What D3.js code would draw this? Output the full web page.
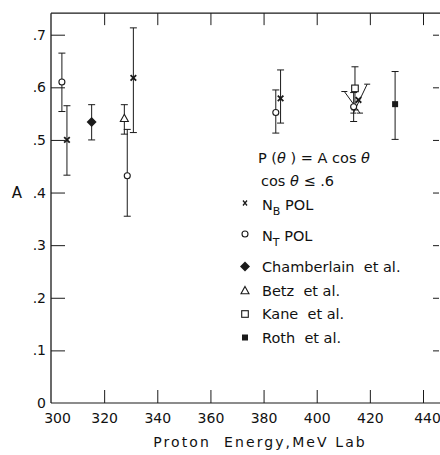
<!DOCTYPE html>
<html><head><meta charset="utf-8">
<script src="https://cdn.jsdelivr.net/npm/d3@7/dist/d3.min.js"></script>
<style>body{margin:0;background:#fff}svg{display:block}text{font-family:"DejaVu Sans",sans-serif;fill:#111;white-space:pre}</style>
</head><body><svg id="c" width="440" height="455"></svg>
<script>
const xTicks = [300,320,340,360,380,400,420,440];
const yTicks = [0,0.1,0.2,0.3,0.4,0.5,0.6,0.7];
const yTickLabels = ["0",".1",".2",".3",".4",".5",".6",".7"];
const xLabel = "Proton  Energy,MeV Lab";
const yLabel = "A";

// N_B POL
const nbE  = [306.0, 331.0, 386.4, 415.7];
const nbA  = [0.500, 0.618, 0.579, 0.576];
const nbLo = [0.433, 0.514, 0.532, null];
const nbHi = [0.565, 0.713, 0.633, null];
// N_T POL
const ntE  = [304.1, 328.7, 384.6, 413.9];
const ntA  = [0.610, 0.432, 0.552, 0.563];
const ntLo = [0.554, 0.355, 0.513, 0.535];
const ntHi = [0.665, 0.520, 0.595, 0.590];
// Chamberlain et al.
const chE = [315.3], chA = [0.534], chLo = [0.500], chHi = [0.567];
// Betz et al.
const beE = [327.6], beA = [0.541], beLo = [0.511], beHi = [0.567];
// Kane et al.
const kaE = [414.4], kaA = [0.598], kaLo = [0.557], kaHi = [0.639];
// Roth et al.
const roE = [429.5], roA = [0.568], roLo = [0.501], roHi = [0.630];
// slanted error bars near 415 MeV (start/end in data units)
const slantE1 = [410.4, 419.0];
const slantA1 = [0.592, 0.606];
const slantE2 = [416.3, 413.8];
const slantA2 = [0.551, 0.551];

const legendLabels = ["POL","POL","Chamberlain  et al.","Betz  et al.","Kane  et al.","Roth  et al."];

const svg = d3.select("#c");
const x = d3.scaleLinear().domain([300,440]).range([51,423]);
const y = d3.scaleLinear().domain([0,0.7]).range([403,34.7]);
const ink = "#1a1a1a";

// frame
const topY = y(0.741);
svg.append("line").attr("x1",x(300)).attr("x2",440).attr("y1",topY).attr("y2",topY).attr("stroke",ink).attr("stroke-width",1.2);
svg.append("line").attr("x1",x(300)).attr("x2",440).attr("y1",y(0)).attr("y2",y(0)).attr("stroke",ink).attr("stroke-width",1.2);
svg.append("line").attr("x1",x(300)).attr("x2",x(300)).attr("y1",topY).attr("y2",y(0)).attr("stroke",ink).attr("stroke-width",1.3);

// axes via d3
const gx = svg.append("g").attr("transform",`translate(0,${y(0)})`)
  .call(d3.axisBottom(x).tickValues(xTicks).tickSize(-13).tickPadding(0).tickFormat(d3.format("d")));
gx.select(".domain").remove();
gx.selectAll(".tick line").attr("stroke",ink).filter(d=>d===300).remove();
gx.selectAll(".tick text").attr("font-size",14).attr("font-family","DejaVu Sans").attr("fill","#111")
  .attr("y",10).attr("dx",d=>d===300?6:(d===440?4:0));

const gxt = svg.append("g").attr("transform",`translate(0,${topY})`)
  .call(d3.axisTop(x).tickValues(xTicks.slice(1)).tickSize(-12).tickFormat(""));
gxt.select(".domain").remove();
gxt.selectAll(".tick line").attr("stroke",ink);

const gy = svg.append("g").attr("transform",`translate(${x(300)},0)`)
  .call(d3.axisLeft(y).tickValues(yTicks).tickSize(-14).tickPadding(0).tickFormat((d,i)=>yTickLabels[i]));
gy.select(".domain").remove();
gy.selectAll(".tick line").attr("stroke",ink).filter(d=>d===0).remove();
gy.selectAll(".tick text").attr("font-size",14).attr("font-family","DejaVu Sans").attr("fill","#111").attr("x",-5);

const gyr = svg.append("g").attr("transform",`translate(439,0)`)
  .call(d3.axisRight(y).tickValues(yTicks.slice(1)).tickSize(-6).tickFormat(""));
gyr.select(".domain").remove();
gyr.selectAll(".tick line").attr("stroke",ink);

svg.append("text").attr("x",17).attr("y",y(0.4)+5).attr("text-anchor","middle").attr("font-size",15).text(yLabel);
svg.append("text").attr("x",260).attr("y",447).attr("text-anchor","middle").attr("font-size",14)
  .attr("letter-spacing",2.1).text(xLabel);

// error bars
function errBars(E,A,Lo,Hi){
  const g = svg.append("g").attr("stroke",ink).attr("stroke-width",1).attr("fill","none");
  E.forEach((e,i)=>{
    if(Lo[i]==null) return;
    const cx = x(e);
    g.append("line").attr("x1",cx).attr("x2",cx).attr("y1",y(Hi[i])).attr("y2",y(Lo[i]));
    [Hi[i],Lo[i]].forEach(v=>g.append("line").attr("x1",cx-3.5).attr("x2",cx+3.5).attr("y1",y(v)).attr("y2",y(v)));
  });
}
errBars(nbE,nbA,nbLo,nbHi);
errBars(ntE,ntA,ntLo,ntHi);
errBars(chE,chA,chLo,chHi);
errBars(beE,beA,beLo,beHi);
errBars(kaE,kaA,kaLo,kaHi);
errBars(roE,roA,roLo,roHi);

// slanted bars
const sg = svg.append("g").attr("stroke",ink).attr("stroke-width",1);
[0,1].forEach(k=>{
  const x1=x(slantE1[k]), y1=y(slantA1[k]), x2=x(slantE2[k]), y2=y(slantA2[k]);
  sg.append("line").attr("x1",x1).attr("y1",y1).attr("x2",x2).attr("y2",y2);
  [[x1,y1],[x2,y2]].forEach(p=>sg.append("line").attr("x1",p[0]-3).attr("x2",p[0]+3).attr("y1",p[1]).attr("y2",p[1]));
});

// markers
function marker(g,type,cx,cy){
  if(type==="x"){
    const s=2.8;
    g.append("path").attr("d",`M${cx-s},${cy-s}L${cx+s},${cy+s}M${cx+s},${cy-s}L${cx-s},${cy+s}`)
      .attr("stroke",ink).attr("stroke-width",1.8).attr("fill","none");
  } else if(type==="circle"){
    g.append("circle").attr("cx",cx).attr("cy",cy).attr("r",3).attr("fill","#fff").attr("stroke",ink).attr("stroke-width",1.1);
  } else if(type==="diamond"){
    const s=5;
    g.append("path").attr("d",`M${cx},${cy-s}L${cx+s},${cy}L${cx},${cy+s}L${cx-s},${cy}Z`).attr("fill",ink);
  } else if(type==="triangle"){
    const s=4;
    g.append("path").attr("d",`M${cx},${cy-s}L${cx+s},${cy+s*0.8}L${cx-s},${cy+s*0.8}Z`).attr("fill","#fff").attr("stroke",ink).attr("stroke-width",1.1);
  } else if(type==="square"){
    const s=3.3;
    g.append("rect").attr("x",cx-s).attr("y",cy-s).attr("width",2*s).attr("height",2*s).attr("fill","#fff").attr("stroke",ink).attr("stroke-width",1.1);
  } else if(type==="fsquare"){
    const s=3;
    g.append("rect").attr("x",cx-s).attr("y",cy-s).attr("width",2*s).attr("height",2*s).attr("fill",ink);
  }
}
const mg = svg.append("g");
function plotSeries(E,A,type){ E.forEach((e,i)=>marker(mg,type,x(e),y(A[i]))); }
plotSeries(chE,chA,"diamond");
plotSeries(beE,beA,"triangle");
plotSeries(kaE,kaA,"square");
plotSeries(roE,roA,"fsquare");
plotSeries(ntE,ntA,"circle");
plotSeries(nbE,nbA,"x");

// legend
const t1 = svg.append("text").attr("x",258).attr("y",163).attr("font-size",14.5);
t1.append("tspan").text("P (");
t1.append("tspan").attr("font-style","italic").text("θ");
t1.append("tspan").text(" ) = A cos ");
t1.append("tspan").attr("font-style","italic").text("θ");
const t2 = svg.append("text").attr("x",261).attr("y",186).attr("font-size",14.5);
t2.append("tspan").text("cos ");
t2.append("tspan").attr("font-style","italic").text("θ");
t2.append("tspan").text(" ≤ .6");

const legTypes = ["x","circle","diamond","triangle","square","fsquare"];
const legY = [203,234,266.5,290.5,314,337.5];
const lg = svg.append("g");
legTypes.forEach((t,i)=>{
  const cy = legY[i];
  if(t==="x"){
    lg.append("path").attr("d",`M${245-2},${cy-2.5}L${245+2},${cy+2.5}M${245+2},${cy-2.5}L${245-2},${cy+2.5}`).attr("stroke",ink).attr("stroke-width",1.3);
  } else marker(lg,t,245,cy);
  const tx = lg.append("text").attr("x",262).attr("y",cy+5).attr("font-size",14.5);
  if(i<2){
    tx.attr("y",cy+6.5);
    tx.append("tspan").text("N");
    tx.append("tspan").attr("dy",5).attr("font-size",11).text(i===0?"B":"T");
    tx.append("tspan").attr("dy",-5).text(" "+legendLabels[i]);
  } else tx.text(legendLabels[i]);
});
</script></body></html>
